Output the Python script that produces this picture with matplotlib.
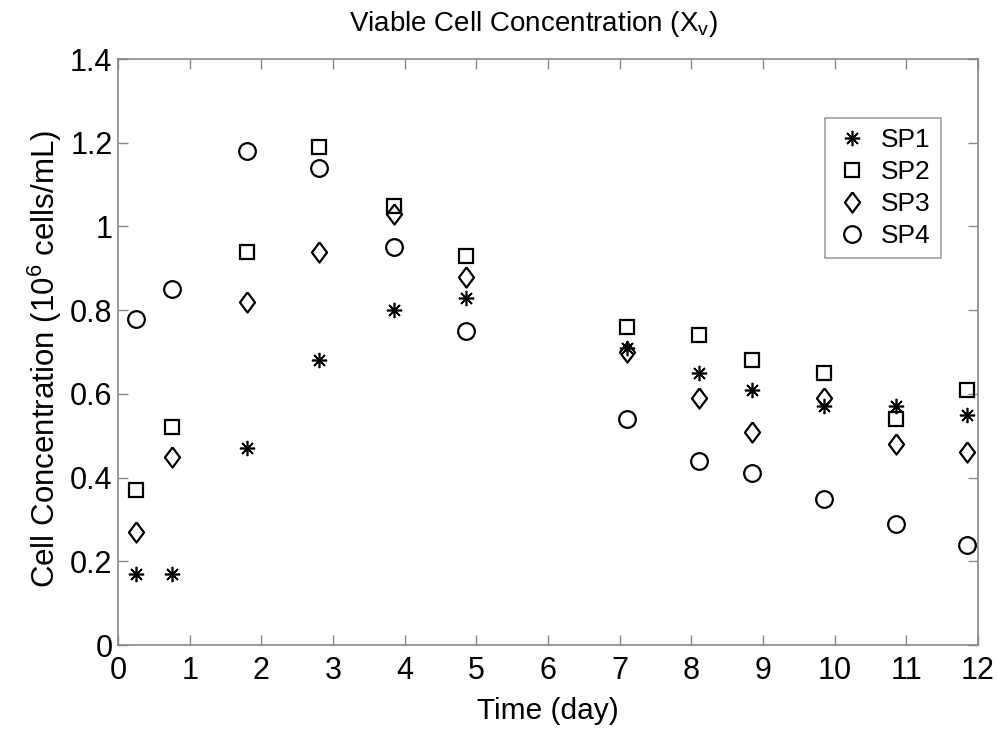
import matplotlib
matplotlib.use("Agg")
import matplotlib.pyplot as plt

days = [0.25, 0.75, 1.8, 2.8, 3.85, 4.85, 7.1, 8.1, 8.85, 9.85, 10.85, 11.85]
sp1 = [0.17, 0.17, 0.47, 0.68, 0.80, 0.83, 0.71, 0.65, 0.61, 0.57, 0.57, 0.55]
sp2 = [0.37, 0.52, 0.94, 1.19, 1.05, 0.93, 0.76, 0.74, 0.68, 0.65, 0.54, 0.61]
sp3 = [0.27, 0.45, 0.82, 0.94, 1.03, 0.88, 0.70, 0.59, 0.51, 0.59, 0.48, 0.46]
sp4 = [0.78, 0.85, 1.18, 1.14, 0.95, 0.75, 0.54, 0.44, 0.41, 0.35, 0.29, 0.24]
labels = ["SP1", "SP2", "SP3", "SP4"]
xticks = list(range(0, 13))
yticks = [0, 0.2, 0.4, 0.6, 0.8, 1.0, 1.2, 1.4]
yticklabels = ["0", "0.2", "0.4", "0.6", "0.8", "1", "1.2", "1.4"]

plt.rcParams['font.family'] = ['Liberation Sans', 'DejaVu Sans']
plt.rcParams['mathtext.fontset'] = 'custom'
plt.rcParams['mathtext.rm'] = 'Liberation Sans'
plt.rcParams['mathtext.it'] = 'Liberation Sans'

fig = plt.figure(figsize=(9.97, 7.35), dpi=100)
ax = fig.add_axes([0.1184, 0.1224, 0.8626, 0.7973])

diamond = [(0, 1), (0.75, 0), (0, -1), (-0.75, 0), (0, 1)]
series = [sp1, sp2, sp3, sp4]
markers = [(8, 2, 0), 's', diamond, 'o']
sizes = [11, 9.5, 14.5, 12]
widths = [1.2, 1.6, 1.6, 1.6]
for ys, lab, m, ms, mw in zip(series, labels, markers, sizes, widths):
    ax.plot(days, ys, linestyle='none', marker=m, markersize=ms, markerfacecolor='none',
            markeredgecolor='black', markeredgewidth=mw, label=lab)

ax.set_xlim(0, 12)
ax.set_ylim(0, 1.4)
ax.set_xticks(xticks)
ax.set_yticks(yticks)
ax.set_yticklabels(yticklabels)
ax.tick_params(direction='in', length=7, width=1, color='#888888', labelsize=22,
               top=True, right=True)
ax.tick_params(axis='x', pad=8)
ax.tick_params(axis='y', pad=4)
for s in ax.spines.values():
    s.set_color('#888888')
    s.set_linewidth(1.2)

ax.set_xlabel('Time (day)', fontsize=21.5, labelpad=8)
ax.set_ylabel('Cell Concentration (10$^{6}$ cells/mL)', fontsize=22.5, labelpad=4, y=0.488)
ax.set_title('Viable Cell Concentration (X$_{v}$)', fontsize=20, pad=20, x=0.483)

leg = ax.legend(loc='upper right', bbox_to_anchor=(0.957, 0.9), fontsize=19,
                frameon=True, fancybox=False, edgecolor='#888888',
                handletextpad=0.5, borderpad=0.4, labelspacing=0.3, handlelength=1.2,
                borderaxespad=0)
leg.get_frame().set_linewidth(1.2)

fig.savefig('out.png', dpi=100, facecolor='white')
